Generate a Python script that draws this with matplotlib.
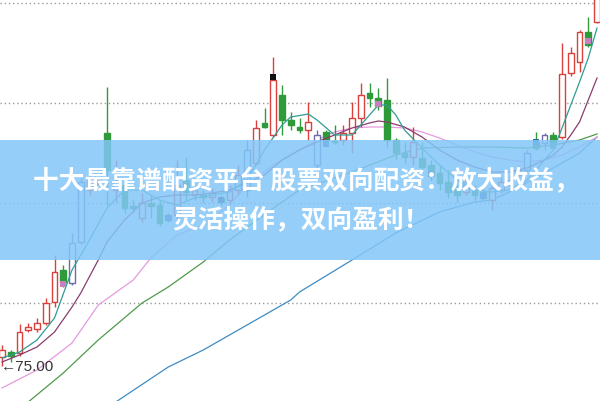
import matplotlib
matplotlib.use("Agg")
import matplotlib.pyplot as plt
from matplotlib.patches import Rectangle
import numpy as np

# daily bars
opens = [75.45, 75.70, 75.65, 76.80, 76.85, 77.15, 78.20, 79.80, 79.15, 81.20,
         83.80, 84.30, 86.65, 83.80, 84.05, 83.00, 82.40, 83.15, 83.05, 82.55,
         82.55, 84.30, 83.55, 83.55, 83.45, 83.40, 83.30, 83.80, 83.80, 85.15,
         87.15, 86.55, 88.55, 87.30, 86.95, 86.80, 85.05, 86.70, 86.25, 86.30,
         86.65, 87.40, 88.65, 88.40, 88.30, 86.30, 85.65, 85.45, 85.40, 85.05,
         84.65, 84.20, 83.90, 83.70, 83.80, 83.70, 83.30, 83.80, 84.05, 84.55,
         84.80, 86.20, 86.15, 86.55, 86.45, 89.65, 90.20, 91.70, 92.20]
closes = [75.80, 75.50, 76.70, 76.95, 77.15, 78.15, 79.70, 79.20, 81.15, 84.20,
          84.40, 84.70, 84.80, 84.20, 82.90, 82.90, 83.15, 83.00, 82.15, 82.30,
          84.05, 83.70, 83.80, 83.45, 83.65, 83.20, 83.80, 84.55, 85.80, 86.90,
          86.95, 89.30, 87.30, 87.05, 86.80, 87.20, 86.55, 86.30, 86.20, 86.65,
          87.40, 88.55, 88.40, 88.00, 86.30, 85.65, 85.45, 86.20, 84.95, 84.50,
          84.15, 83.70, 83.55, 84.20, 83.55, 83.40, 83.90, 84.20, 84.30, 84.80,
          85.65, 85.90, 86.55, 86.05, 89.60, 90.65, 91.70, 91.05, 93.45]
highs = [76.05, 75.80, 77.10, 77.15, 77.40, 78.40, 80.55, 80.05, 81.65, 84.40,
         84.70, 84.90, 88.95, 85.30, 84.30, 83.30, 83.65, 83.55, 83.30, 82.65,
         85.30, 85.45, 84.05, 83.80, 83.90, 83.55, 84.05, 85.05, 86.30, 87.30,
         87.90, 90.45, 89.05, 87.70, 87.40, 88.20, 86.80, 86.80, 87.05, 87.05,
         88.20, 89.15, 89.15, 88.90, 89.40, 86.40, 86.20, 86.95, 86.20, 85.30,
         85.05, 84.80, 84.05, 84.55, 84.05, 83.90, 84.40, 84.45, 84.55, 85.05,
         85.80, 86.70, 86.65, 86.70, 91.15, 90.95, 91.80, 92.45, 93.55]
lows = [75.00, 75.20, 75.50, 76.70, 76.70, 77.05, 77.95, 78.95, 79.05, 81.10,
        83.55, 84.05, 83.05, 83.20, 82.65, 82.70, 82.20, 82.40, 82.00, 82.20,
        82.20, 83.30, 83.30, 83.15, 83.20, 83.05, 83.15, 83.55, 83.45, 85.05,
        86.90, 86.45, 86.55, 86.80, 86.65, 86.30, 84.80, 85.95, 86.10, 86.05,
        85.65, 86.95, 87.95, 87.80, 85.95, 85.30, 85.15, 85.05, 84.70, 84.30,
        83.80, 83.40, 83.20, 83.55, 83.30, 83.30, 82.80, 83.65, 83.80, 84.40,
        84.70, 85.80, 85.80, 85.90, 86.35, 89.50, 89.70, 90.95, 92.15]
slate_bars = [8, 9, 28, 36, 60, 62]

# little signal squares on some bars
sig_idx = [7, 19, 25, 31, 37, 43, 49, 55, 61, 63, 67]
sig_val = [79.10, 82.40, 83.30, 89.45, 86.10, 88.10, 84.60, 83.50, 86.20, 86.00, 91.25]
sig_col = ["#c77fc0", "#3a5aa0", "#2a3a60", "#111111", "#3a5aa0", "#c77fc0",
           "#3a5aa0", "#3a5aa0", "#2a6a9a", "#3a9a9a", "#c77fc0"]

# moving average lines, (bar index, value)
ma5_idx = [0, 2, 4, 6, 8, 10, 12, 14, 16, 18, 20, 22, 24, 26, 28, 30, 32, 33, 35, 36,
           38, 40, 42, 43, 44, 45, 46, 48, 50, 52, 54, 56, 58, 60, 61, 62, 63, 64, 65,
           66, 67, 68]
ma5 = [75.40, 75.70, 76.30, 77.40, 79.80, 81.30, 82.90, 83.80, 83.80, 83.30, 83.05,
       83.40, 83.55, 83.70, 84.30, 85.80, 87.05, 87.45, 87.60, 87.30, 86.55, 86.55,
       87.55, 88.05, 88.05, 87.55, 86.80, 85.90, 85.05, 84.30, 83.80, 83.70, 83.80,
       84.30, 84.80, 85.30, 85.80, 86.90, 88.05, 89.20, 90.40, 91.90]
ma10_idx = [0, 2, 4, 6, 8, 9, 11, 12, 14, 16, 18, 20, 22, 24, 26, 28, 30, 32, 34, 36,
            38, 40, 42, 43, 44, 46, 48, 50, 52, 54, 56, 58, 60, 62, 63, 64, 65, 66, 67, 68]
ma10 = [75.20, 75.55, 75.95, 76.70, 77.95, 78.65, 80.30, 81.20, 82.30, 83.15, 83.45,
        83.55, 83.55, 83.65, 83.80, 84.15, 84.55, 85.30, 85.80, 86.20, 86.55, 86.90,
        87.15, 87.25, 87.20, 86.95, 86.45, 85.80, 85.30, 84.95, 84.70, 84.70, 84.90,
        85.30, 85.55, 85.95, 86.55, 87.20, 88.30, 89.40]
ma20_idx = [0, 4, 8, 11, 15, 17, 20, 23, 26, 28, 31, 34, 36, 38, 40, 42, 44, 46, 48,
            50, 52, 54, 56, 58, 60, 62, 64, 66, 68]
ma20 = [73.90, 74.80, 76.15, 78.05, 79.30, 80.40, 81.55, 82.05, 83.05, 84.05, 85.05,
        85.80, 86.30, 86.70, 86.90, 86.95, 86.95, 86.90, 86.70, 86.40, 86.05, 85.70,
        85.45, 85.30, 85.20, 85.30, 85.55, 85.95, 86.45]
ma30_idx = [3, 7, 11, 16, 19, 23, 26, 32, 34, 40, 45, 48, 52, 56, 60, 63, 66, 68]
ma30 = [73.20, 74.65, 76.30, 78.15, 78.95, 80.20, 81.30, 83.20, 83.80, 84.70, 85.55,
        85.90, 85.95, 85.95, 85.90, 86.05, 86.30, 86.60]
ma60_idx = [13, 19, 23, 27, 33, 34, 40, 45, 50, 54, 56, 58, 62, 66, 68]
ma60 = [73.20, 74.95, 75.80, 76.80, 78.30, 78.70, 80.30, 81.65, 82.70, 83.20, 83.30,
        83.70, 84.65, 85.65, 86.45]

grid_levels = [78.15, 83.15, 88.15, 93.15]
low_label = "←75.00"
title_1 = "十大最靠谱配资平台 股票双向配资：放大收益，"
title_2 = "灵活操作，双向盈利！"

RED = "#d8403c"
GREEN = "#2f9a3a"
SLATE = "#6e6aa8"

fig = plt.figure(figsize=(6, 4.01), dpi=100)
ax = fig.add_axes([0, 0, 1, 1])
ax.set_xlim(-0.23, 68.34)
ax.set_ylim(73.25, 93.30)
ax.axis("off")

for lv in grid_levels:
    ax.axhline(lv, color="#9a9a9a", lw=1.0, ls=(0, (1, 2)), zorder=1)

w = 0.68
for i in range(len(opens)):
    o, c, h, l = opens[i], closes[i], highs[i], lows[i]
    up = c >= o
    col = RED if up else GREEN
    if i in slate_bars:
        col = SLATE
    ax.vlines(i, l, h, color=col, lw=1.0, zorder=3)
    if up:
        ax.add_patch(Rectangle((i - w / 2, o), w, c - o, facecolor="white",
                               edgecolor=col, lw=1.0, zorder=4))
    else:
        ax.add_patch(Rectangle((i - w / 2, c), w, o - c, facecolor=col,
                               edgecolor=col, lw=1.0, zorder=4))

ax.scatter(sig_idx, sig_val, s=18, marker="s", c=sig_col, linewidths=0, zorder=6)

ax.plot(ma60_idx, ma60, color="#3d8cc4", lw=0.9, zorder=2)
ax.plot(ma30_idx, ma30, color="#4f9a4a", lw=0.9, zorder=2)
ax.plot(ma20_idx, ma20, color="#e69ae0", lw=0.9, zorder=2)
ax.plot(ma10_idx, ma10, color="#8a3c6e", lw=0.9, zorder=5)
ax.plot(ma5_idx, ma5, color="#2f9c95", lw=0.9, zorder=5)

ax.text(-0.15, min(lows) - 0.05, low_label, ha="left", va="center", fontsize=11,
        color="#333333", family=["Liberation Sans", "DejaVu Sans"], zorder=6)

# banner over the chart
ax.add_patch(Rectangle((0, 0.352), 1, 0.299, transform=ax.transAxes,
                       facecolor="#83c6f8", edgecolor="none", alpha=0.85, zorder=10))
ax.text(0.51, 0.548, title_1, transform=ax.transAxes, ha="center", va="center",
        fontsize=18.5, fontweight="bold", color="white",
        family=["Noto Sans CJK SC", "DejaVu Sans"], zorder=11)
ax.text(0.502, 0.451, title_2, transform=ax.transAxes, ha="center", va="center",
        fontsize=18.5, fontweight="bold", color="white",
        family=["Noto Sans CJK SC", "DejaVu Sans"], zorder=11)

fig.savefig("out.png", dpi=100)
